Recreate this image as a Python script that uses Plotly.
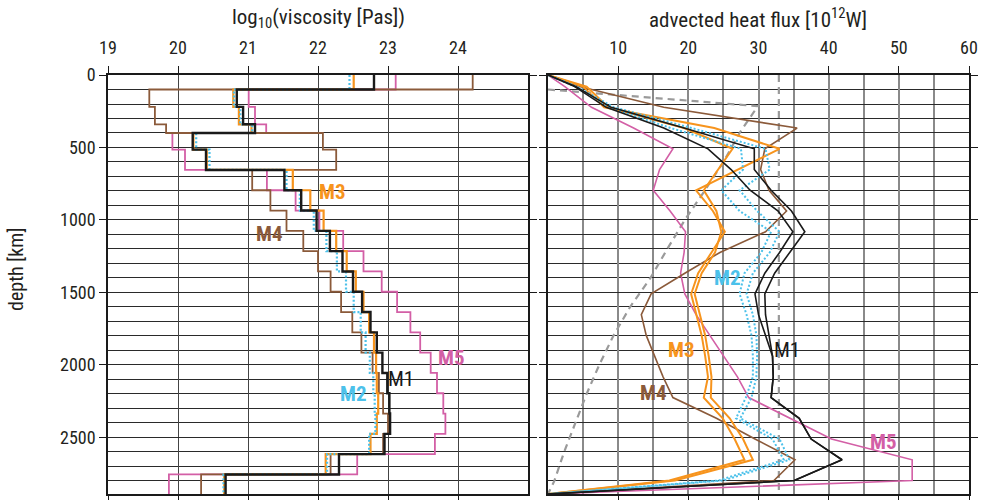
import plotly.graph_objects as go

# ---------------- viscosity profiles (step functions, log10 Pa s) ----------------
visc_depth = [0, 100, 220, 340, 400, 515, 655, 795, 935, 1075, 1215, 1355, 1495,
              1635, 1775, 1915, 2055, 2195, 2335, 2475, 2615, 2755, 2890]
visc_m1 = [22.80, 20.84, 20.93, 21.10, 20.21, 20.40, 21.52, 21.76, 21.98, 22.17, 22.35,
           22.50, 22.63, 22.75, 22.84, 22.92, 22.99, 23.02, 23.03, 22.95, 22.30, 20.68]
visc_m2 = [22.45, 20.80, 20.89, 21.06, 20.26, 20.45, 21.55, 21.74, 21.94, 22.12, 22.27,
           22.40, 22.51, 22.61, 22.68, 22.74, 22.79, 22.81, 22.82, 22.73, 22.13, 20.65]
visc_m3 = [22.51, 20.79, 20.87, 21.05, 20.22, 20.41, 21.64, 21.89, 22.08, 22.26, 22.41,
           22.54, 22.65, 22.73, 22.80, 22.83, 22.84, 22.86, 22.84, 22.75, 22.11, 20.66]
visc_m4 = [24.21, 19.59, 19.67, 19.83, 22.07, 22.26, 21.06, 21.32, 21.55, 21.79, 22.00,
           22.18, 22.33, 22.49, 22.62, 22.78, 22.87, 22.93, 23.00, 22.93, 22.18, 20.33]
visc_m5 = [23.11, 21.01, 21.10, 21.26, 19.92, 20.10, 21.27, 21.68, 22.02, 22.36, 22.65,
           22.91, 23.13, 23.32, 23.46, 23.61, 23.70, 23.79, 23.82, 23.67, 22.56, 19.87]

# ---------------- advected heat flux profiles (10^12 W) ----------------
flux_depth = [0, 80, 223, 366, 509, 652, 795, 938, 1081, 1224, 1367, 1510, 1653,
              1796, 1939, 2082, 2225, 2368, 2511, 2654, 2797, 2890]
flux_m1a = [0, 3.8, 8.3, 16.5, 22.8, 26.1, 28.8, 32.8, 34.9, 33.0, 30.9, 29.5, 30.0,
            31.0, 32.0, 32.1, 31.8, 35.8, 37.5, 41.9, 35.1, 0]
flux_m1b = [0, 4.0, 9.0, 19.4, 29.4, 29.4, 31.8, 34.7, 36.6, 34.4, 32.3, 30.9, 31.0,
            31.5, 32.0, 32.1, 31.8, 35.8, 37.5, 41.9, 35.1, 0]
flux_m2a = [0, 3.9, 8.8, 17.5, 27.5, 27.8, 24.7, 27.3, 31.8, 30.4, 28.0, 27.3, 28.3,
            29.0, 29.2, 29.2, 28.2, 26.8, 32.0, 33.6, 24.3, 0]
flux_m2b = [0, 4.1, 9.4, 20.5, 31.0, 31.6, 27.3, 29.8, 33.0, 31.6, 29.2, 28.3, 29.2,
            29.7, 29.8, 29.7, 29.0, 27.4, 33.0, 34.4, 25.0, 0]
flux_m3a = [0, 5.0, 8.0, 23.7, 33.0, 27.0, 21.1, 23.5, 25.2, 23.3, 21.4, 20.4, 21.1,
            21.9, 22.4, 22.8, 22.2, 24.9, 26.6, 28.0, 17.3, 0]
flux_m3b = [0, 5.5, 8.6, 19.4, 26.3, 24.2, 22.2, 24.0, 24.7, 23.8, 21.9, 20.9, 21.6,
            22.4, 22.9, 23.3, 23.2, 25.9, 27.8, 29.2, 18.1, 0]
flux_m4 = [0, 4.5, 16.5, 35.5, 30.9, 30.3, 31.5, 34.0, 31.0, 24.5, 19.5, 14.7, 13.3,
           14.0, 15.2, 16.4, 17.8, 24.0, 29.5, 35.2, 32.2, 0]
flux_m5 = [0, 2.4, 6.2, 12.2, 17.8, 15.9, 15.0, 17.4, 19.6, 19.4, 18.9, 19.5, 21.1,
           23.1, 25.0, 27.0, 28.6, 34.5, 40.4, 51.9, 51.9, 0]

# reference curves (grey dashed)
ref_depth = [100, 215, 400, 600, 800, 1000, 1200, 1400, 1600, 1800, 2000, 2200,
             2400, 2600, 2800, 2890]
ref_flux = [0, 29.9, 27.3, 25.0, 22.3, 19.5, 17.0, 14.6, 11.7, 9.3, 7.3, 5.5,
            3.9, 2.3, 0.9, 0]
ref_const = 32.9
depth_max = 2890

visc_ticks = [19, 20, 21, 22, 23, 24]
flux_ticks = [10, 20, 30, 40, 50, 60]
flux_minor = [5, 15, 25, 35, 45, 55]
depth_ticks = [0, 500, 1000, 1500, 2000, 2500]

C1, C2, C3, C4, C5 = "#1a1a1a", "#4cc1ea", "#f7941d", "#8b5a3a", "#d35fa6"
GREY = "#9a9a9a"
FONT = "Liberation Sans Narrow, Roboto Condensed, Roboto, sans-serif"

W, H = 982, 500
fig = go.Figure()


def visc_trace(vals, color, width, dash="solid"):
    xs = list(vals) + [vals[-1]]
    return go.Scatter(x=xs, y=visc_depth, mode="lines", line_shape="vh",
                      line=dict(color=color, width=width, dash=dash),
                      xaxis="x", yaxis="y", hoverinfo="skip", showlegend=False)


def flux_trace(vals, depth, color, width, dash="solid"):
    return go.Scatter(x=vals, y=depth, mode="lines",
                      line=dict(color=color, width=width, dash=dash),
                      xaxis="x2", yaxis="y2", hoverinfo="skip", showlegend=False)


# left panel: viscosity
fig.add_trace(visc_trace(visc_m5, C5, 1.8))
fig.add_trace(visc_trace(visc_m4, C4, 1.8))
fig.add_trace(visc_trace(visc_m3, C3, 2.2))
fig.add_trace(visc_trace(visc_m2, C2, 2.2, "2px,2px"))
fig.add_trace(visc_trace(visc_m1, C1, 2.4))

# right panel: heat flux
fig.add_trace(flux_trace(ref_flux, ref_depth, GREY, 2.2, "7px,5px"))
fig.add_trace(flux_trace([ref_const, ref_const], [0, depth_max], GREY, 2.2, "7px,5px"))
fig.add_trace(flux_trace(flux_m5, flux_depth, C5, 1.6))
fig.add_trace(flux_trace(flux_m4, flux_depth, C4, 1.6))
fig.add_trace(flux_trace(flux_m3a, flux_depth, C3, 2))
fig.add_trace(flux_trace(flux_m3b, flux_depth, C3, 2))
fig.add_trace(flux_trace(flux_m2a, flux_depth, C2, 2, "2px,2px"))
fig.add_trace(flux_trace(flux_m2b, flux_depth, C2, 2, "2px,2px"))
fig.add_trace(flux_trace(flux_m1a, flux_depth, C1, 1.6))
fig.add_trace(flux_trace(flux_m1b, flux_depth, C1, 1.6))

x1_dom = [108 / W, 528 / W]
x2_dom = [548 / W, 969 / W]
y_dom = [1 - 494 / H, 1 - 75 / H]

tick_font = dict(family=FONT, size=18, color="#231f20")
common_x = dict(side="top", ticks="outside", ticklen=7, tickwidth=1, tickcolor="#1a1a1a",
                showline=True, linecolor="#1a1a1a", linewidth=1.5, mirror="allticks",
                zeroline=False, tickfont=tick_font, fixedrange=True, automargin=False,
                ticklabelstandoff=5)
common_y = dict(range=[depth_max, 0], tickmode="array", tickvals=depth_ticks,
                ticks="outside", ticklen=7, tickwidth=1, tickcolor="#1a1a1a",
                showline=True, linecolor="#1a1a1a", linewidth=1.5, mirror="allticks",
                showgrid=True, gridcolor="#2a2a2a", gridwidth=1, zeroline=False,
                minor=dict(dtick=100, tick0=0, showgrid=True, gridcolor="#2a2a2a",
                           gridwidth=1, ticks=""),
                tickfont=tick_font, fixedrange=True, automargin=False)

fig.update_layout(
    width=W, height=H, autosize=False,
    margin=dict(l=0, r=0, t=0, b=0, pad=0, autoexpand=False),
    paper_bgcolor="white", plot_bgcolor="white",
    xaxis=dict(domain=x1_dom, range=[19, 25], tickmode="array", tickvals=visc_ticks,
               showgrid=True, gridcolor="#444444", gridwidth=1, anchor="y", **common_x),
    xaxis2=dict(domain=x2_dom, range=[0, 60], tickmode="array", tickvals=flux_ticks,
                showgrid=True, gridcolor="#8a8a8a", gridwidth=1.5, anchor="y2",
                minor=dict(tickvals=flux_minor, showgrid=True, gridcolor="#8a8a8a",
                           gridwidth=1.5, ticks=""),
                **common_x),
    yaxis=dict(domain=y_dom, anchor="x", showticklabels=True, **common_y),
    yaxis2=dict(domain=y_dom, anchor="x2", showticklabels=False, **common_y),
    font=dict(family=FONT, color="#231f20"),
)

annos = [
    dict(text="log<sub>10</sub>(viscosity [Pas])", x=318 / W, y=1 - 18 / H,
         xref="paper", yref="paper", xanchor="center", yanchor="middle",
         showarrow=False, font=dict(size=21)),
    dict(text="advected heat flux [10<sup>12</sup>W]", x=758 / W, y=1 - 18 / H,
         xref="paper", yref="paper", xanchor="center", yanchor="middle",
         showarrow=False, font=dict(size=21)),
    dict(text="depth [km]", x=16 / W, y=1 - 270 / H, textangle=-90,
         xref="paper", yref="paper", xanchor="center", yanchor="middle",
         showarrow=False, font=dict(size=20)),
]

# curve labels
labels = [
    ("x", "y", 22.21, 807, "M3", C3, True),
    ("x", "y", 21.31, 1097, "M4", C4, True),
    ("x", "y", 23.91, 1954, "M5", C5, True),
    ("x", "y", 23.18, 2099, "M1", C1, False),
    ("x", "y", 22.50, 2203, "M2", C2, True),
    ("x2", "y2", 25.6, 1401, "M2", C2, True),
    ("x2", "y2", 19.0, 1899, "M3", C3, True),
    ("x2", "y2", 34.0, 1899, "M1", C1, False),
    ("x2", "y2", 15.1, 2196, "M4", C4, True),
    ("x2", "y2", 47.8, 2528, "M5", C5, True),
]
for xr, yr, xv, yv, txt, col, bold in labels:
    annos.append(dict(text=f"<b>{txt}</b>" if bold else txt, x=xv, y=yv, xref=xr, yref=yr,
                      xanchor="center", yanchor="middle", showarrow=False,
                      font=dict(size=21, color=col, family=FONT)))

fig.update_layout(annotations=annos)
fig.write_html("out.html")
